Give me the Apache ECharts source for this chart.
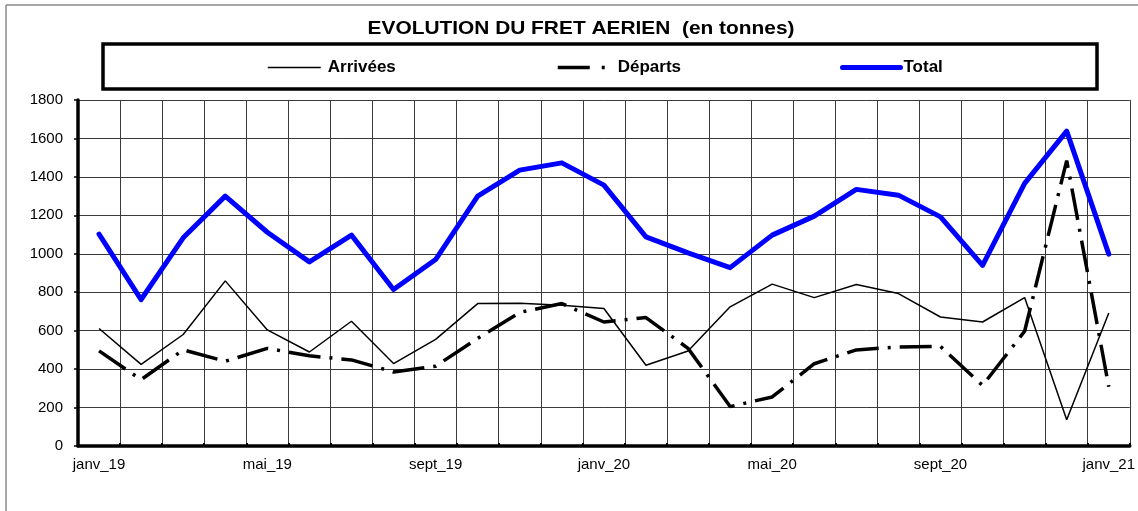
<!DOCTYPE html>
<html>
<head>
<meta charset="utf-8">
<script src="https://cdn.jsdelivr.net/npm/echarts@6/dist/echarts.min.js"></script>
<style>
  html, body { margin: 0; padding: 0; background: #fff; }
  #chart { width: 1138px; height: 511px; }
</style>
</head>
<body>
<div id="chart"></div>
<script>
// Monthly air freight, in tonnes
const months = ['janv_19','févr_19','mars_19','avr_19','mai_19','juin_19','juil_19','août_19','sept_19','oct_19','nov_19','déc_19',
                'janv_20','févr_20','mars_20','avr_20','mai_20','juin_20','juil_20','août_20','sept_20','oct_20','nov_20','déc_20',
                'janv_21'];
const arrivees = [611,425,580,859,604,489,649,429,555,741,743,732,715,420,494,724,842,772,840,793,671,645,772,137,692];
const departs  = [495,345,500,441,508,469,448,385,415,560,695,741,645,668,508,205,255,428,500,515,518,315,597,1485,308];
const total    = [1102,762,1083,1300,1112,958,1097,814,970,1300,1435,1473,1357,1088,1005,928,1097,1196,1335,1305,1192,940,1366,1638,998];
const yTicks = { min: 0, max: 1800, step: 200 };
const titleText = 'EVOLUTION DU FRET AERIEN  (en tonnes)';

const font = '"Liberation Sans", Arial, sans-serif';
const chart = echarts.init(document.getElementById('chart'), null, { renderer: 'canvas' });

const legendText = { fontFamily: font, fontWeight: 'bold', fontSize: 17, color: '#000' };
const legendBase = {
  top: 59,
  padding: 0,
  itemHeight: 14,
  selectedMode: false,
  itemStyle: { opacity: 0 }   // keep only the line sample, no marker
};

chart.setOption({
  animation: false,
  backgroundColor: '#fff',
  grid: { left: 78, right: 6, top: 100, bottom: 65, containLabel: false },
  legend: [
    Object.assign({}, legendBase, { left: 267, itemWidth: 53, data: ['Arrivées'],
      lineStyle: { color: '#000', width: 1.5 }, textStyle: Object.assign({}, legendText, { padding: [0, 0, 0, 2] }) }),
    Object.assign({}, legendBase, { left: 556, itemWidth: 52, data: ['Départs'],
      lineStyle: { color: '#000', width: 3.5, type: [32, 12, 3, 12], cap: 'butt' }, textStyle: Object.assign({}, legendText, { padding: [0, 0, 0, 3] }) }),
    Object.assign({}, legendBase, { left: 840, itemWidth: 58, data: ['Total'],
      lineStyle: { color: '#0000ff', width: 5, cap: 'round' }, textStyle: Object.assign({}, legendText, { padding: [0, 0, 0, -2] }) })
  ],
  graphic: [
    // frame around the whole chart
    { type: 'line', shape: { x1: 6, y1: 5, x2: 1138, y2: 5 }, style: { stroke: '#8a8a8a', lineWidth: 1.5 }, silent: true },
    { type: 'line', shape: { x1: 6, y1: 5, x2: 6, y2: 511 }, style: { stroke: '#8a8a8a', lineWidth: 1.5 }, silent: true },
    // legend box
    { type: 'rect', shape: { x: 103, y: 44, width: 994, height: 45 }, style: { fill: 'none', stroke: '#000', lineWidth: 3.5 }, z: 0, silent: true },
    // title
    { type: 'text', x: 581, y: 29, scaleX: 1.16, style: { text: titleText, x: 0, y: 0, align: 'center', verticalAlign: 'middle',
        font: 'bold 18px ' + font, fill: '#000' }, silent: true }
  ],
  xAxis: {
    type: 'category',
    data: months,
    boundaryGap: true,
    axisLine: { lineStyle: { color: '#000', width: 3.5 } },
    axisTick: { show: true, inside: true, length: 3, interval: 0, lineStyle: { color: '#000', width: 2 } },
    axisLabel: { interval: 3, margin: 11, fontFamily: font, fontSize: 15, color: '#000' },
    splitLine: { show: true, interval: 0, lineStyle: { color: '#3a3a3a', width: 1 } }
  },
  yAxis: {
    type: 'value',
    min: yTicks.min, max: yTicks.max, interval: yTicks.step,
    axisLine: { show: true, lineStyle: { color: '#000', width: 3.5 } },
    axisTick: { show: true, length: 4, lineStyle: { color: '#000', width: 1.5 } },
    axisLabel: { margin: 15, fontFamily: font, fontSize: 15, color: '#000', formatter: v => String(v) },
    splitLine: { show: true, lineStyle: { color: '#3a3a3a', width: 1 } }
  },
  series: [
    {
      name: 'Arrivées', type: 'line', data: arrivees, symbol: 'none', z: 3,
      lineStyle: { color: '#000', width: 1.5 }, itemStyle: { color: '#000' }
    },
    {
      name: 'Départs', type: 'line', data: departs, symbol: 'none', z: 4,
      lineStyle: { color: '#000', width: 3.5, type: [32, 9, 3, 9], cap: 'butt' }, itemStyle: { color: '#000' }
    },
    {
      name: 'Total', type: 'line', data: total, symbol: 'none', z: 5,
      lineStyle: { color: '#0000ff', width: 5, join: 'round', cap: 'round' }, itemStyle: { color: '#0000ff' }
    }
  ]
});
</script>
</body>
</html>
